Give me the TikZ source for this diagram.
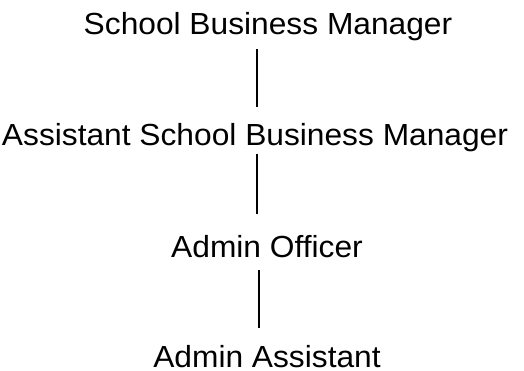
\documentclass[tikz,border=0pt]{standalone}
\usepackage{fontspec}
\setmainfont[FakeStretch=1.04]{Liberation Sans}
\usetikzlibrary{calc}
\begin{document}
\begin{tikzpicture}[x=1bp,y=-1bp,
  role/.style={anchor=base,inner sep=0pt,font=\fontsize{30.5bp}{36bp}\selectfont},
  link/.style={line width=2bp}]
\useasboundingbox (0,0) rectangle (524,370);
% organisational levels
\node[role] (sbm)   at (268,34)  {School Business Manager};
\node[role] (asbm)  at (255,145) {Assistant School Business Manager};
\node[role] (ao)    at (267,257) {Admin Officer};
\node[role] (aa)    at (267,367) {Admin Assistant};
% vertical reporting lines
\coordinate (spineA) at (256.7,0);
\coordinate (spineB) at (259.3,0);
\draw[link] ($(sbm.base -| spineA)+(0,15)$) -- ($(asbm.base -| spineA)+(0,-38)$);
\draw[link] ($(asbm.base -| spineA)+(0,9)$) -- ($(ao.base -| spineA)+(0,-43)$);
\draw[link] ($(ao.base -| spineB)+(0,13)$) -- ($(aa.base -| spineB)+(0,-39)$);
\end{tikzpicture}
\end{document}
